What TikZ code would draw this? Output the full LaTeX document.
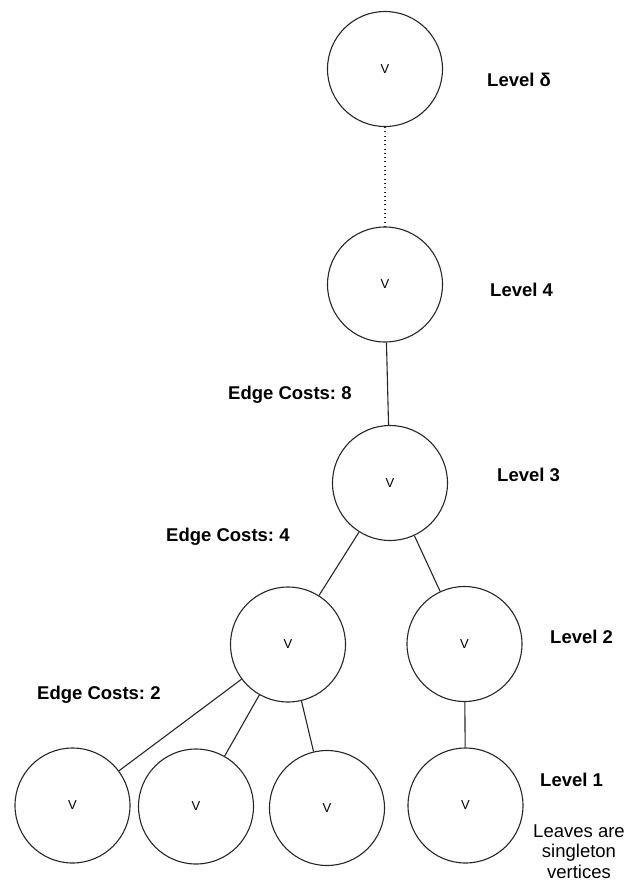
\documentclass[tikz,border=0pt]{standalone}
\usepackage{fontspec}
\setmainfont{Liberation Sans}
\frenchspacing
\begin{document}
\begin{tikzpicture}[x=1pt,y=-1pt,
  vtx/.style={draw=black!85,line width=1.1pt,circle,minimum size=115pt,inner sep=0pt,font=\fontsize{13}{14}\selectfont},
  lvl/.style={anchor=base west,inner sep=0pt,font=\bfseries\fontsize{18.5}{20}\selectfont},
  edge/.style={draw=black!85,line width=1.1pt},
  dotline/.style={draw=black!85,line width=1.2pt,dash pattern=on 1pt off 3.3pt}]
\useasboundingbox (0,0) rectangle (626,884);
\node[vtx] (top) at (385,69) {V};
\node[vtx] (l4) at (385,284.5) {V};
\node[vtx] (l3) at (390,483) {V};
\node[vtx] (l2a) at (288,644.5) {V};
\node[vtx] (l2b) at (464.5,644) {V};
\node[vtx] (f1) at (72.5,805.5) {V};
\node[vtx] (f2) at (196,806.5) {V};
\node[vtx] (f3) at (327,808) {V};
\node[vtx] (f4) at (465.5,805.5) {V};
\draw[dotline] (top) -- (l4);
\draw[edge] (l4) -- (l3);
\draw[edge] (l3) -- (l2a);
\draw[edge] (l3) -- (l2b);
\draw[edge] (l2a) -- (f1);
\draw[edge] (l2a) -- (f2);
\draw[edge] (l2a) -- (f3);
\draw[edge] (l2b) -- (f4);
\node[lvl] (tdelta) at (487,86.6) {Level δ};
\node[lvl] (t4) at (490,296.5) {Level 4};
\node[lvl] (t3) at (497,481.5) {Level 3};
\node[lvl] (t2) at (550,643.5) {Level 2};
\node[lvl] (t1) at (540,786) {Level 1};
\node[lvl] (e8) at (228,399.5) {Edge Costs: 8};
\node[lvl] (e4) at (166,541.5) {Edge Costs: 4};
\node[lvl] (e2) at (37,699.5) {Edge Costs: 2};
\node[anchor=base,inner sep=0pt,font=\fontsize{18.5}{20.5}\selectfont,align=center] (leaves) at (579,878) {Leaves are\\singleton\\vertices};
\end{tikzpicture}
\end{document}
